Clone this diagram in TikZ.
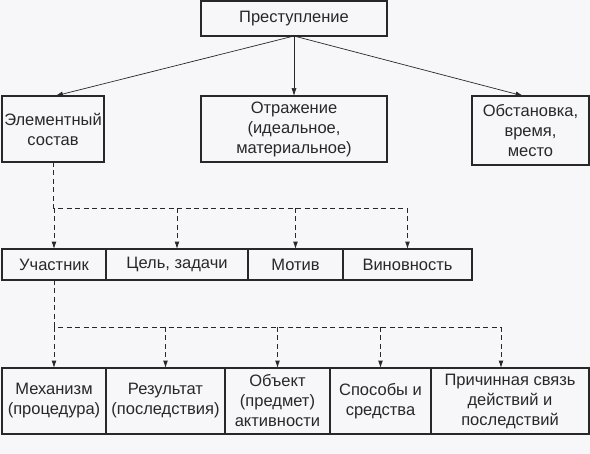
\documentclass[tikz,border=0pt]{standalone}
\usepackage{fontspec}
\setmainfont{Liberation Sans}
\usepackage{xcolor}
\usetikzlibrary{arrows.meta,positioning,calc}
\definecolor{crimepaper}{RGB}{247,246,248}
\definecolor{crimedark}{RGB}{40,40,40}
\tikzset{
  crime box/.style={
    draw=crimedark,
    line width=1.2pt,
    inner sep=0pt,
    outer sep=0pt,
    align=center,
    text=crimedark,
    font=\fontsize{16.5}{20}\selectfont,
  },
  crime arrow/.style={
    -{Latex[length=2.8mm,width=1.8mm]},
    line width=0.7pt,
    draw=crimedark,
  },
  crime dash/.style={
    line width=0.9pt,
    draw=crimedark,
    dash pattern=on 5pt off 3.5pt,
  },
  crime dash arrow/.style={
    crime dash,
    -{Latex[length=2.6mm,width=1.7mm]},
  },
}

\begin{document}
\begin{tikzpicture}[x=1pt,y=1pt]
  \useasboundingbox[fill=crimepaper] (0,0) rectangle (590,-454);
  % top level
  \node[crime box, minimum width=186pt, minimum height=35pt, anchor=north west] (pr) at (201,-1)
    {Преступление};
  \node[crime box, minimum width=102pt, minimum height=66pt, anchor=north west] (elem) at (2,-96)
    {Элементный\\состав};
  \node[crime box, minimum width=186pt, minimum height=66pt, anchor=north west] (otr) at (201,-96)
    {Отражение\\(идеальное,\\материальное)};
  \node[crime box, minimum width=117pt, minimum height=69pt, anchor=north west] (obst) at (472,-96)
    {Обстановка,\\время,\\место};
  % middle row
  \node[crime box, minimum width=104pt, minimum height=31pt, anchor=north west] (uch) at (2,-249)
    {Участник};
  \node[crime box, minimum width=142pt, minimum height=31pt, right=0pt of uch] (cel) {Цель, задачи};
  \node[crime box, minimum width=95pt, minimum height=31pt, right=0pt of cel] (mot) {Мотив};
  \node[crime box, minimum width=129pt, minimum height=31pt, right=0pt of mot] (vin) {Виновность};
  % bottom row
  \node[crime box, minimum width=104pt, minimum height=66pt, anchor=north west] (mech) at (2,-368)
    {Механизм\\(процедура)};
  \node[crime box, minimum width=119pt, minimum height=66pt, right=0pt of mech] (rez)
    {Результат\\(последствия)};
  \node[crime box, minimum width=105pt, minimum height=66pt, right=0pt of rez] (obj)
    {Объект\\(предмет)\\активности};
  \node[crime box, minimum width=101pt, minimum height=66pt, right=0pt of obj] (spos)
    {Способы и\\средства};
  \node[crime box, minimum width=158pt, minimum height=66pt, right=0pt of spos] (prich)
    {Причинная связь\\действий и\\последствий};

  % solid arrows from the top
  \draw[crime arrow] (pr.south) -- ([xshift=2pt]elem.north);
  \draw[crime arrow] (pr.south) -- (otr.north);
  \draw[crime arrow] (pr.south) -- ([xshift=-7pt]obst.north);

  % dashed bus to the middle row
  \coordinate (busA) at ($(elem.south)+(0,-46)$);
  \coordinate (busAend) at (busA -| vin.north);
  \draw[crime dash] (elem.south) -- (busA) -- (busAend);
  \foreach \t in {uch,cel,mot,vin}
    \draw[crime dash arrow] (busA -| \t.north) -- (\t.north);

  % dashed bus to the bottom row
  \coordinate (busB) at ($(uch.south)+(0,-47)$);
  \coordinate (prtip) at ([xshift=-9pt]prich.north);
  \coordinate (busBend) at (busB -| prtip);
  \draw[crime dash] (uch.south) -- (busB) -- (busBend);
  \foreach \t in {mech,rez,obj,spos}
    \draw[crime dash arrow] (busB -| \t.north) -- (\t.north);
  \draw[crime dash arrow] (busBend) -- (prtip);
\end{tikzpicture}
\end{document}
